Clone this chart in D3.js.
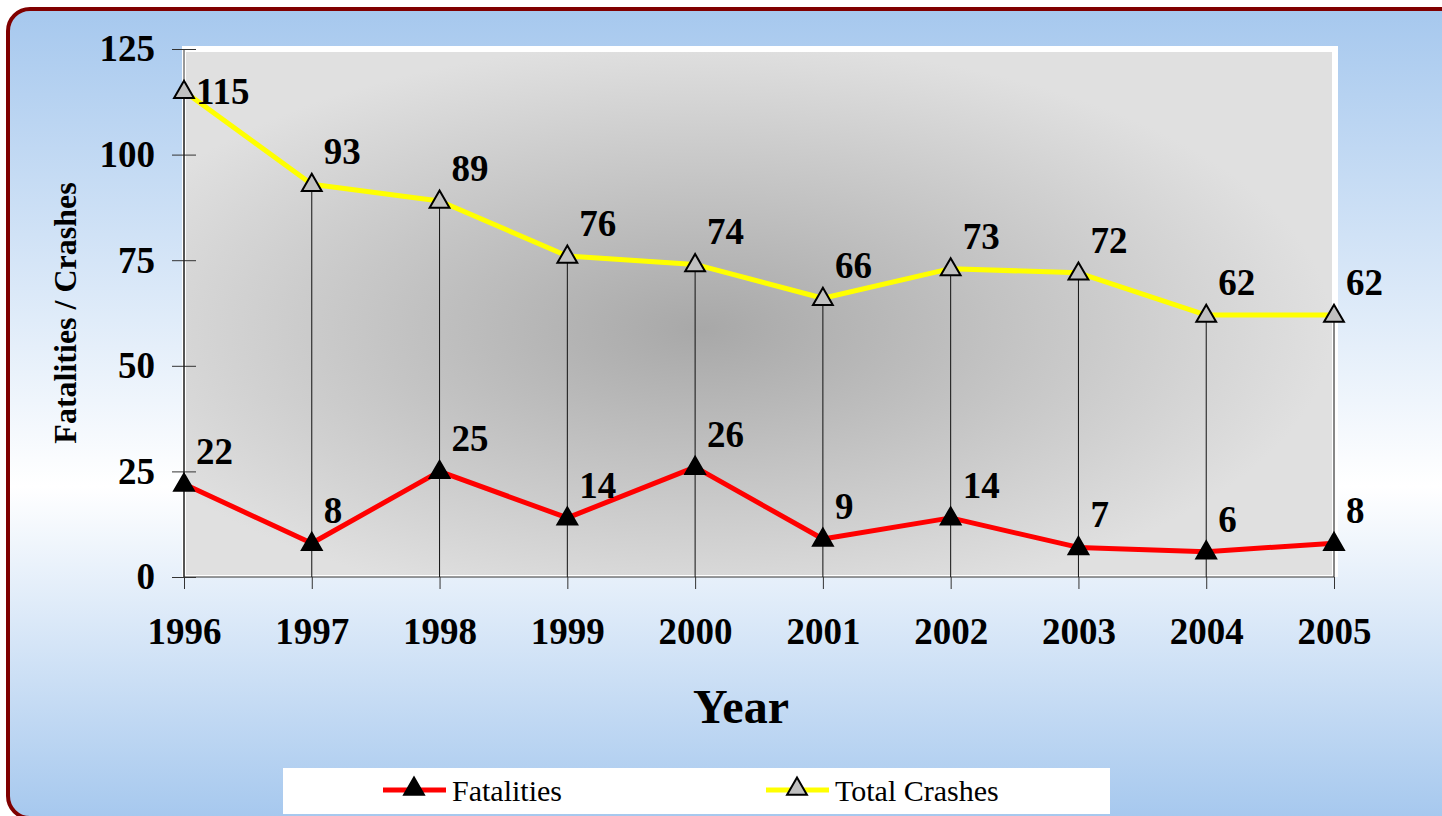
<!DOCTYPE html>
<html>
<head>
<meta charset="utf-8">
<title>Fatalities / Crashes</title>
<script src="https://d3js.org/d3.v7.min.js"></script>
<style>
body { margin: 0; background: #fff; }
svg { display: block; }
.axis text { font-family: "Liberation Serif", "Times New Roman", serif; font-weight: bold; font-size: 37px; fill: #000; }
.axis .domain { stroke: #333; }
.axis .tick line { stroke: #333; }
.label { font-family: "Liberation Serif", "Times New Roman", serif; font-weight: bold; font-size: 37px; }
.legend text { font-family: "Liberation Serif", "Times New Roman", serif; font-size: 30px; }
</style>
</head>
<body>
<svg id="chart" width="1442" height="816"></svg>
<script>

// data
const years = [1996, 1997, 1998, 1999, 2000, 2001, 2002, 2003, 2004, 2005];
const fatalities = [22, 8, 25, 14, 26, 9, 14, 7, 6, 8];
const totalCrashes = [115, 93, 89, 76, 74, 66, 73, 72, 62, 62];
const yTicks = [0, 25, 50, 75, 100, 125];

const svg = d3.select("svg#chart");
const defs = svg.append("defs");

// background gradients
const bg = defs.append("linearGradient").attr("id", "bg")
  .attr("x1", 0).attr("y1", 0).attr("x2", 0).attr("y2", 1);
bg.append("stop").attr("offset", "0%").attr("stop-color", "#a6c8ee");
bg.append("stop").attr("offset", "59%").attr("stop-color", "#ffffff");
bg.append("stop").attr("offset", "100%").attr("stop-color", "#a6c8ee");

const plotBg = defs.append("radialGradient").attr("id", "plotbg")
  .attr("cx", "45%").attr("cy", "53%").attr("r", "55%");
plotBg.append("stop").attr("offset", "0%").attr("stop-color", "#a8a8a8");
plotBg.append("stop").attr("offset", "100%").attr("stop-color", "#e0e0e0");

// outer frame
svg.append("rect")
  .attr("x", 8).attr("y", 9).attr("width", 1470).attr("height", 809)
  .attr("rx", 22).attr("ry", 22)
  .attr("fill", "url(#bg)")
  .attr("stroke", "#800000").attr("stroke-width", 4);

// scales
const x = d3.scalePoint().domain(years).range([184, 1334]);
const y = d3.scaleLinear().domain([0, 125]).range([577, 49]);

// plot area
svg.append("rect").attr("x", 182).attr("y", 46).attr("width", 1156).attr("height", 531).attr("fill", "#fff");
svg.append("rect").attr("x", 186).attr("y", 52).attr("width", 1146).attr("height", 523).attr("fill", "url(#plotbg)");

// axes
const leftAxis = d3.axisLeft(y).tickValues(yTicks).tickSize(12).tickPadding(17);
const gy = svg.append("g").attr("class", "axis")
  .attr("transform", `translate(${x(1996)},0)`)
  .call(leftAxis);
gy.select(".domain").attr("d", `M0,${y(125)}V${y(0)}`);
gy.selectAll(".tick line").attr("x1", 12);

const bottomAxis = d3.axisBottom(x).tickSize(12).tickPadding(29);
const gx = svg.append("g").attr("class", "axis")
  .attr("transform", `translate(0,${y(0)})`)
  .call(bottomAxis);
gx.select(".domain").attr("d", `M${x(1996)},0H${x(2005)}`);

// axis titles
svg.append("text")
  .attr("x", 741).attr("y", 723)
  .attr("text-anchor", "middle")
  .style("font-family", "'Liberation Serif', 'Times New Roman', serif")
  .style("font-weight", "bold").style("font-size", "48px")
  .text("Year");

svg.append("text")
  .attr("transform", "translate(76,313) rotate(-90)")
  .attr("text-anchor", "middle")
  .style("font-family", "'Liberation Serif', 'Times New Roman', serif")
  .style("font-weight", "bold").style("font-size", "32px")
  .text("Fatalities / Crashes");

// drop lines
svg.append("g").selectAll("line")
  .data(years)
  .join("line")
  .attr("x1", d => x(d)).attr("x2", d => x(d))
  .attr("y1", y(0))
  .attr("y2", (d, i) => y(totalCrashes[i]))
  .attr("stroke", "#111").attr("stroke-width", 1);

const triangle = d3.symbol().type(d3.symbolTriangle).size(170);

function drawSeries(values, lineColor, fill) {
  const line = d3.line().x((d, i) => x(years[i])).y(d => y(d));
  svg.append("path")
    .datum(values)
    .attr("d", line)
    .attr("fill", "none")
    .attr("stroke", lineColor)
    .attr("stroke-width", 5)
    .attr("stroke-linejoin", "round");

  svg.append("g").selectAll("path")
    .data(values)
    .join("path")
    .attr("d", triangle)
    .attr("transform", (d, i) => `translate(${x(years[i])},${y(d) + 1})`)
    .attr("fill", fill)
    .attr("stroke", "#000")
    .attr("stroke-width", 2);

  svg.append("g").selectAll("text")
    .data(values)
    .join("text")
    .attr("class", "label")
    .attr("x", (d, i) => x(years[i]) + 12)
    .attr("y", d => Math.max(y(d) - 20, 104))
    .text(d => d);
}

drawSeries(totalCrashes, "#ffff00", "#c0c0c0");
drawSeries(fatalities, "#ff0000", "#000");

// legend
const legend = svg.append("g").attr("class", "legend");
legend.append("rect").attr("x", 283).attr("y", 768).attr("width", 827).attr("height", 46).attr("fill", "#fff");

const legendItems = [
  { name: "Fatalities", color: "#ff0000", fill: "#000", x: 383 },
  { name: "Total Crashes", color: "#ffff00", fill: "#c0c0c0", x: 766 }
];
legendItems.forEach(item => {
  legend.append("line")
    .attr("x1", item.x).attr("x2", item.x + 63)
    .attr("y1", 790).attr("y2", 790)
    .attr("stroke", item.color).attr("stroke-width", 5);
  legend.append("path")
    .attr("d", triangle)
    .attr("transform", `translate(${item.x + 31},789)`)
    .attr("fill", item.fill).attr("stroke", "#000").attr("stroke-width", 2);
  legend.append("text")
    .attr("x", item.x + 69).attr("y", 801)
    .text(item.name);
});

</script>
</body>
</html>
